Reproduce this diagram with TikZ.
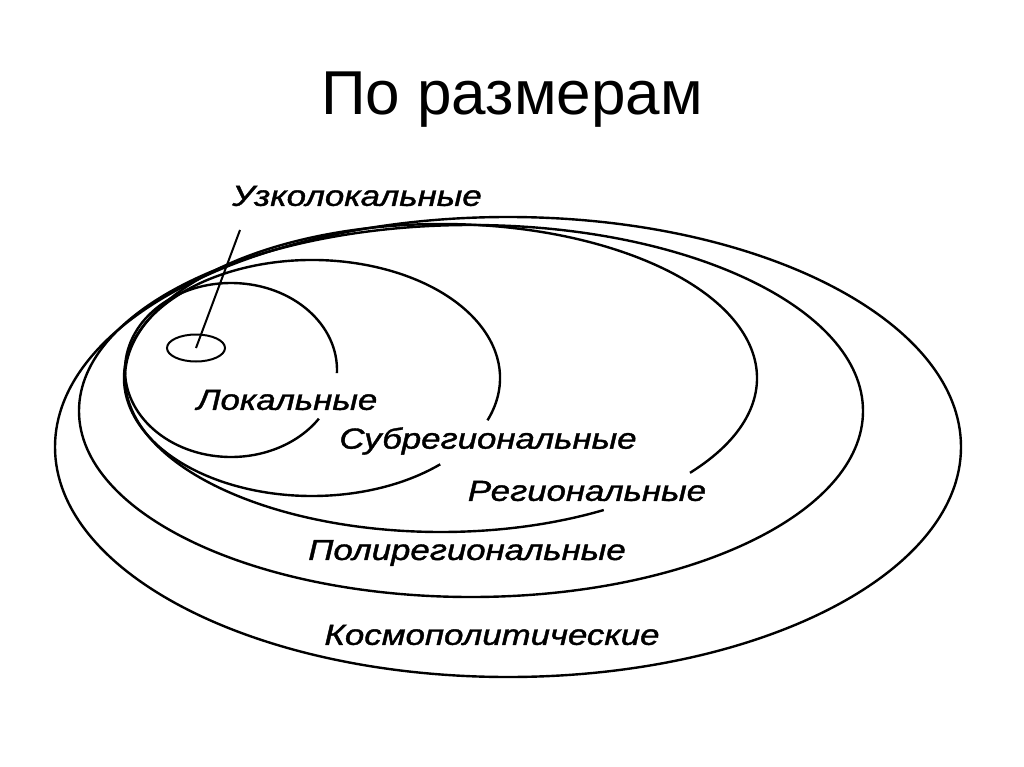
\documentclass[tikz,border=0pt]{standalone}
\usepackage{fontspec}
\setmainfont{Liberation Sans}
\setsansfont{Liberation Sans}
\newfontfamily\lblfont[FakeBold=1.2]{Liberation Sans}
\usetikzlibrary{shapes.geometric}
\tikzset{
  ring/.style={draw=black, line width=2.4pt},
  lbl/.style={font=\lblfont\fontsize{29}{31}\selectfont\itshape, inner sep=0pt, anchor=center, xscale=1.2},
  ttl/.style={font=\fontsize{62}{66}\selectfont, inner sep=0pt, anchor=center},
  pointer/.style={draw=black, line width=2pt}
}
\begin{document}
\begin{tikzpicture}[x=1pt,y=1pt]
\useasboundingbox[fill=white] (0,0) rectangle (1024,-767);
% title
\node[ttl] (title) at (512,-100) {По размерам};
% closed ellipses
\draw[ring] (508,-447) ellipse[x radius=453, y radius=230];
\draw[ring] (471,-411) ellipse[x radius=392, y radius=186];
% open rings
\draw[ring] (441,-378) ++(-38:316 and 154) arc[start angle=-38, end angle=301, x radius=316, y radius=154];
\draw[ring] (312,-378) ++(-21:188 and 118) arc[start angle=-21, end angle=313, x radius=188, y radius=118];
\draw[ring] (231,-370) ++(-2:106 and 87) arc[start angle=-2, end angle=326, x radius=106, y radius=87];
% small ellipse
\node[draw=black, line width=2pt, ellipse, inner sep=0pt, minimum width=58pt, minimum height=27pt] (small) at (196,-348) {};
% labels
\node[lbl] (uzko) at (357,-196) {Узколокальные};
\node[lbl] (lok) at (287,-400) {Локальные};
\node[lbl] (subr) at (488,-441) {Субрегиональные};
\node[lbl] (reg) at (587,-491) {Региональные};
\node[lbl] (poli) at (467,-553) {Полирегиональные};
\node[lbl] (kosm) at (492,-635) {Космополитические};
% pointer
\coordinate (ptr) at (240,-230);
\draw[pointer] (ptr) -- (small.center);
\end{tikzpicture}
\end{document}
